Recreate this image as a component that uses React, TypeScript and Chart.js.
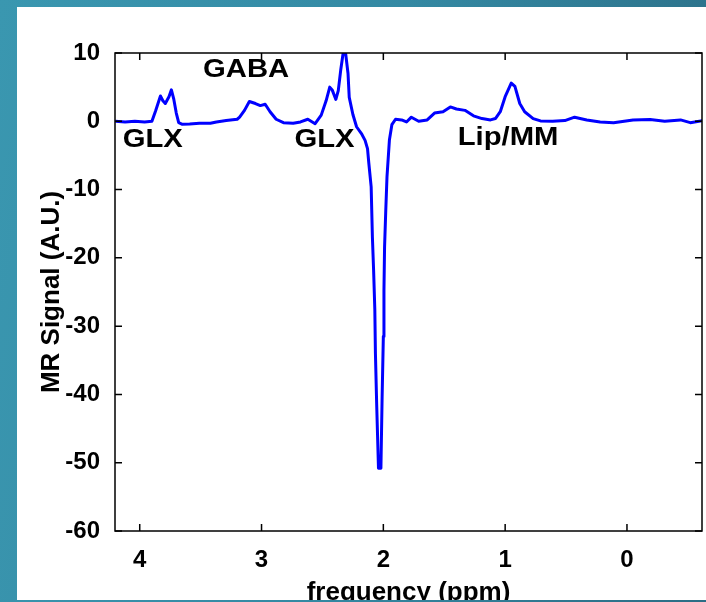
import React, { useEffect, useRef } from "react";
import { Chart, registerables } from "chart.js";
Chart.register(...registerables);

const ppm = [
  4.2, 4.12, 4.04, 3.96, 3.9, 3.87, 3.83, 3.81, 3.79, 3.76, 3.74, 3.72, 3.7, 3.68, 3.65, 3.59, 3.51, 3.42, 3.37,
  3.29, 3.2, 3.18, 3.14, 3.1, 3.05, 3.01, 2.97, 2.93, 2.88, 2.82, 2.74, 2.68, 2.62, 2.56, 2.51, 2.47, 2.44, 2.42,
  2.39, 2.37, 2.35, 2.33, 2.31, 2.29, 2.28, 2.25, 2.22, 2.18, 2.15, 2.13, 2.12, 2.1, 2.09, 2.08, 2.07, 2.065,
  2.055, 2.04, 2.02, 2.01, 2.0, 1.995, 1.99, 1.98, 1.97, 1.95, 1.93, 1.9, 1.85, 1.81, 1.77, 1.71, 1.64, 1.58,
  1.51, 1.45, 1.4, 1.33, 1.26, 1.19, 1.12, 1.08, 1.04, 1.0, 0.95, 0.92, 0.88, 0.84, 0.77, 0.71, 0.61, 0.51, 0.43,
  0.33, 0.22, 0.11, -0.05, -0.19, -0.31, -0.44, -0.52, -0.62,
];
const signal = [
  0.0, -0.1, 0.0, -0.1, 0.0, 1.5, 3.7, 3.0, 2.6, 3.6, 4.6, 3.2, 1.2, -0.2, -0.45, -0.4, -0.3, -0.3, -0.1,
  0.1, 0.3, 0.6, 1.6, 2.9, 2.6, 2.3, 2.5, 1.4, 0.3, -0.2, -0.3, -0.1, 0.3, -0.35, 0.9, 3.0, 5.0, 4.6,
  3.2, 4.5, 7.5, 10.0, 10.0, 7.0, 3.5, 1.0, -0.8, -1.8, -2.8, -4.0, -6.0, -9.6, -16.9, -21.8, -27.6, -34,
  -41.3, -50.8, -50.8, -40.3, -31.5, -24.7, -18.4, -13, -8.1, -2.7, -0.5, 0.3, 0.2, -0.1, 0.6, 0.0, 0.2, 1.2,
  1.4, 2.1, 1.8, 1.6, 0.8, 0.4, 0.2, 0.4, 1.4, 3.6, 5.6, 5.1, 2.6, 1.4, 0.4, 0.05, 0.0, 0.1, 0.6,
  0.2, -0.1, -0.2, 0.2, 0.25, 0.0, 0.2, -0.2, 0.1,
];
const xTickValues = [4, 3, 2, 1, 0];
const yTickValues = [10, 0, -10, -20, -30, -40, -50, -60];
const labelTexts = ["GABA", "GLX", "GLX", "Lip/MM"];
const labelPpm = [3.48, 4.14, 2.73, 1.39];
const labelSignal = [6.5, -3.8, -3.7, -3.5];

const FAMILY = '"Liberation Sans", Arial, Helvetica, sans-serif';

export default function App() {
  const ref = useRef<HTMLCanvasElement>(null);
  useEffect(() => {
    document.body.style.margin = "0";
    const framePlugin = {
      id: "frame",
      afterDatasetsDraw(chart: any) {
        const { ctx, chartArea: a, scales } = chart;
        const xs = scales.x;
        const ys = scales.y;
        ctx.save();
        ctx.strokeStyle = "#000";
        ctx.lineWidth = 1.5;
        ctx.strokeRect(a.left, a.top, a.right - a.left, a.bottom - a.top);
        ctx.beginPath();
        const L = 7;
        xs.ticks.forEach((t: any) => {
          const px = xs.getPixelForValue(t.value);
          ctx.moveTo(px, a.bottom);
          ctx.lineTo(px, a.bottom - L);
          ctx.moveTo(px, a.top);
          ctx.lineTo(px, a.top + L);
        });
        ys.ticks.forEach((t: any) => {
          const py = ys.getPixelForValue(t.value);
          ctx.moveTo(a.left, py);
          ctx.lineTo(a.left + L, py);
          ctx.moveTo(a.right, py);
          ctx.lineTo(a.right - L, py);
        });
        ctx.stroke();
        ctx.fillStyle = "#000";
        ctx.font = `bold 25px ${FAMILY}`;
        ctx.textBaseline = "alphabetic";
        ctx.textAlign = "left";
        labelTexts.forEach((s, i) => {
          const px = xs.getPixelForValue(labelPpm[i]);
          const py = ys.getPixelForValue(labelSignal[i]);
          ctx.save();
          ctx.translate(px, py);
          ctx.scale(1.17, 1);
          ctx.fillText(s, 0, 0);
          ctx.restore();
        });
        ctx.restore();
      },
    };
    const chart = new Chart(ref.current as HTMLCanvasElement, {
      type: "line",
      data: {
        datasets: [
          {
            data: ppm.map((x, i) => ({ x, y: signal[i] })),
            borderColor: "#0000ff",
            borderWidth: 3,
            pointRadius: 0,
            tension: 0,
            fill: false,
            borderJoinStyle: "round",
          } as any,
        ],
      },
      options: {
        animation: false,
        responsive: false,
        maintainAspectRatio: false,
        events: [],
        layout: { padding: { top: 53, right: 4, left: 0, bottom: 0 } },
        plugins: { legend: { display: false }, tooltip: { enabled: false } },
        scales: {
          x: {
            type: "linear",
            reverse: true,
            min: -0.616,
            max: 4.203,
            afterBuildTicks: (s: any) => {
              s.ticks = xTickValues.map((v) => ({ value: v }));
            },
            afterFit: (s: any) => {
              s.height = 69;
            },
            grid: { display: false },
            border: { display: false },
            ticks: {
              color: "#000",
              font: { family: FAMILY, size: 24, weight: "bold" },
              padding: 7,
              maxRotation: 0,
              autoSkip: false,
            },
            title: {
              display: true,
              text: "frequency (ppm)",
              color: "#000",
              font: { family: FAMILY, size: 26, weight: "bold", lineHeight: 0.54 },
              padding: 0,
            },
          },
          y: {
            type: "linear",
            min: -60,
            max: 10,
            afterBuildTicks: (s: any) => {
              s.ticks = yTickValues.map((v) => ({ value: v }));
            },
            afterFit: (s: any) => {
              s.width = 115;
            },
            grid: { display: false },
            border: { display: false },
            ticks: {
              color: "#000",
              font: { family: FAMILY, size: 24, weight: "bold" },
              padding: 7,
              autoSkip: false,
            },
            title: {
              display: true,
              text: "MR Signal (A.U.)",
              color: "#000",
              font: { family: FAMILY, size: 26, weight: "bold", lineHeight: 1.2 },
              padding: { top: 36, bottom: 0 },
            },
          },
        },
      } as any,
      plugins: [framePlugin],
    });
    return () => chart.destroy();
  }, []);

  return (
    <div
      style={{
        position: "relative",
        width: 706,
        height: 602,
        overflow: "hidden",
        background: "linear-gradient(100deg, #3a97b0 0%, #3489a3 50%, #2b6d85 100%)",
      }}
    >
      <div style={{ position: "absolute", left: 17, top: 7, width: 689, height: 593, background: "#fff" }} />
      <canvas
        ref={ref}
        width={706}
        height={600}
        style={{ position: "absolute", left: 0, top: 0, width: 706, height: 600, display: "block" }}
      />
    </div>
  );
}
